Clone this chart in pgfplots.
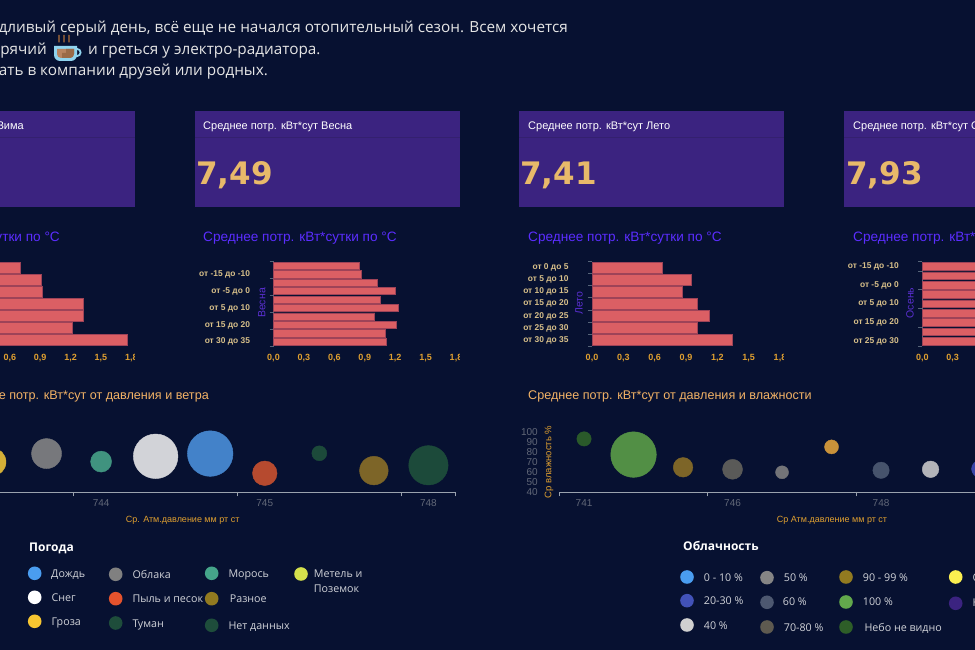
\documentclass[border=0pt]{standalone}
\usepackage{pgfplots}
\pgfplotsset{compat=1.18}
\usepackage{fontspec}
\setmainfont{Liberation Sans}
\newfontfamily\opensans{Open Sans}
\newfontfamily\dejavu{DejaVu Sans}
\definecolor{bg}{HTML}{071131}
\definecolor{panel}{HTML}{3B2380}
\definecolor{panelline}{HTML}{34206F}
\definecolor{gold}{HTML}{E8B96A}
\definecolor{ttlpurple}{HTML}{5B2DFF}
\definecolor{ylpurple}{HTML}{5A2FD0}
\definecolor{ttlorange}{HTML}{F2B266}
\definecolor{lblorange}{HTML}{E0A030}
\definecolor{cat}{HTML}{D8C08A}
\definecolor{barfill}{HTML}{DB5F64}
\definecolor{barline}{HTML}{9E4358}
\definecolor{axgray}{HTML}{566478}
\definecolor{tickgray}{HTML}{626878}
\definecolor{legtext}{HTML}{D0D2D8}
\definecolor{cupblue}{HTML}{8FD3EE}
\definecolor{cupa}{HTML}{B88360}
\definecolor{cupb}{HTML}{9A6A48}
\definecolor{steam}{HTML}{B0703A}
\definecolor{bA}{HTML}{D4AF37}
\definecolor{bB}{HTML}{77787C}
\definecolor{bC}{HTML}{40937F}
\definecolor{bD}{HTML}{D2D3D8}
\definecolor{bE}{HTML}{4382C9}
\definecolor{bF}{HTML}{B64A2F}
\definecolor{bG}{HTML}{1C4A3A}
\definecolor{bH}{HTML}{7D6528}
\definecolor{rA}{HTML}{2A5A2A}
\definecolor{rB}{HTML}{528F45}
\definecolor{rC}{HTML}{5A5A58}
\definecolor{rD}{HTML}{737478}
\definecolor{rE}{HTML}{C9923A}
\definecolor{rF}{HTML}{46536C}
\definecolor{rG}{HTML}{B3B4B9}
\definecolor{rH}{HTML}{3B46A8}
\pgfplotsset{
  barax/.style={
    scale only axis, anchor=south west,
    xmin=0, xmax=1.8, y dir=reverse,
    xbar, bar width=0.84, 
    xtick={0,0.3,0.6,0.9,1.2,1.5,1.8},
    xticklabels={{0,0},{0,3},{0,6},{0,9},{1,2},{1,5},{1,8}},
    axis x line=bottom, axis y line=left,
    x axis line style={draw=none},
    y axis line style={draw=axgray,line width=0.8pt,-},
    major tick length=0pt, minor tick length=4pt,
    tick align=outside,
    minor tick style={draw=axgray,line width=0.8pt},
    xticklabel style={font=\fontsize{9}{10}\selectfont\bfseries, text=lblorange, yshift=-4.5pt},
    yticklabel style={font=\fontsize{8.4}{10}\selectfont\bfseries, text=cat, xshift=-20pt},
    clip=false, axis on top=false,
  },
  bubax/.style={
    scale only axis, anchor=south west,
    axis x line=bottom, axis y line=left,
    x axis line style={draw=axgray!60!white,line width=0.8pt,-},
    major tick length=0pt, minor tick length=4pt,
    tick align=outside,
    minor tick style={draw=axgray!60!white,line width=0.8pt},
    xticklabel style={font=\fontsize{10}{11}\selectfont, text=tickgray, yshift=-3.5pt},
    yticklabel style={font=\fontsize{10}{10}\selectfont, text=tickgray, xshift=-18pt},
    /pgf/number format/assume math mode=true,
    clip=false,
  },
  bub/.style n args={2}{only marks, mark=*, mark size=#1pt, mark options={draw=#2,fill=#2}, forget plot},
}
\begin{document}
\begin{tikzpicture}[x=1pt,y=1pt]
\path[use as bounding box] (0,0) rectangle (975,650);
\clip (0,0) rectangle (975,650);
\fill[bg] (0,0) rectangle (975,650);

% intro text
\begin{scope}[every node/.style={inner sep=0,text=white!90!black,font=\opensans\fontsize{15.3}{18}\selectfont}]
\node[anchor=mid east] at (568,620) {Дождливый серый день, всё еще не начался отопительный сезон. Всем хочется};
\node[anchor=mid east] at (47,598) {пить горячий};
\node[anchor=mid west] at (88,598) {и греться у электро-радиатора.};
\node[anchor=mid east] at (268,577) {поболтать в компании друзей или родных.};
\end{scope}
% cup
\begin{scope}
\draw[line width=1.8pt,color=cupblue] (77,597.5) circle (3.6);
\fill[color=cupblue] (54,604) -- (77,604) -- (77,595) arc (0:-90:6) -- (60,589) arc (-90:-180:6) -- cycle;
\fill[color=cupa] (57,601) -- (74,601) -- (74,596) arc (0:-90:4) -- (61,592) arc (-90:-180:4) -- cycle;
\fill[color=cupb] (66,601) -- (74,601) -- (74,596) arc (0:-90:4) -- (62,592) -- (62,597) -- (66,597) -- cycle;
\foreach \sx in {59,64,69}{\draw[line width=1.2pt,color=steam] (\sx,615) .. controls (\sx+1.6,612.5) and (\sx-1.6,610.5) .. (\sx,607.5);}
\end{scope}

% KPI panels
\foreach \xa/\xb in {-130/135,195/460,519/784,844/1109}{
  \fill[panel] (\xa,539) rectangle (\xb,443);
  \draw[panelline,line width=0.8pt] (\xa,513) -- (\xb,513);
}
\begin{scope}[every node/.style={inner sep=0,text=white,font=\fontsize{11}{13}\selectfont}]
\node[anchor=mid east] at (24,523.5) {Среднее потр. кВт*сут Зима};
\node[anchor=mid west] at (203,523.5) {Среднее потр. кВт*сут Весна};
\node[anchor=mid west] at (528,523.5) {Среднее потр. кВт*сут Лето};
\node[anchor=mid west] at (853,523.5) {Среднее потр. кВт*сут Осень};
\end{scope}
\begin{scope}[every node/.style={inner sep=0,text=gold,font=\dejavu\bfseries\fontsize{31}{34}\selectfont}]
\node[anchor=mid west] at (196,468) {7,49};
\node[anchor=mid west] at (520,468) {7,41};
\node[anchor=mid west] at (846,468) {7,93};
\end{scope}

% bar titles
\begin{scope}[every node/.style={inner sep=0,text=ttlpurple,font=\fontsize{13.6}{15}\selectfont}]
\node[anchor=mid east] at (60,411.5) {Среднее потр. кВт*сутки по °С};
\node[anchor=mid west] at (203,411.5) {Среднее потр. кВт*сутки по °С};
\node[anchor=mid west] at (528,411.5) {Среднее потр. кВт*сутки по °С};
\node[anchor=mid west] at (853,411.5) {Среднее потр. кВт*сутки по °С};
\end{scope}

% Winter
\begin{scope}
\clip (-80,270) rectangle (134,400);
\begin{axis}[barax, at={(-51pt,304pt)}, width=182.4pt, height=84pt,
  ymin=-0.5, ymax=6.5, ytick={0,...,6},
  yticklabels={от -15 до -10,от -10 до -5,от -5 до 0,от 0 до 5,от 5 до 10,от 10 до 15,от 15 до 20},
  minor ytick={-0.5,0.5,...,6.5}, bar width=0.86]
\addplot[draw=barline,fill=barfill,line width=0.8pt] coordinates {(0.70,0)(0.91,1)(0.92,2)(1.33,3)(1.325,4)(1.22,5)(1.76,6)};
\end{axis}
\end{scope}
% Spring
\begin{scope}
\clip (190,270) rectangle (459,400);
\begin{axis}[barax, at={(273.5pt,304pt)}, width=182.5pt, height=84.2pt,
  ymin=-0.5, ymax=9.5, ytick={1,3,5,7,9},
  yticklabels={от -15 до -10,от -5 до 0,от 5 до 10,от 15 до 20,от 30 до 35},
  minor ytick={-0.5,1.5,3.5,5.5,7.5,9.5}]
\addplot[draw=barline,fill=barfill,line width=0.8pt] coordinates {(0.848,0)(0.871,1)(1.026,2)(1.206,3)(1.052,4)(1.233,5)(0.999,6)(1.21,7)(1.108,8)(1.118,9)};
\end{axis}
\end{scope}
\node[rotate=90,inner sep=0,text=ylpurple,font=\fontsize{10.5}{12}\selectfont] at (261.7,347) {Весна};
% Summer
\begin{scope}
\clip (510,270) rectangle (783,400);
\begin{axis}[barax, at={(592pt,304pt)}, width=188pt, height=84.2pt,
  ymin=-0.5, ymax=6.5, ytick={0,...,6},
  yticklabels={от 0 до 5,от 5 до 10,от 10 до 15,от 15 до 20,от 20 до 25,от 25 до 30,от 30 до 35},
  minor ytick={-0.5,0.5,...,6.5}, bar width=0.86]
\addplot[draw=barline,fill=barfill,line width=0.8pt] coordinates {(0.67,0)(0.951,1)(0.865,2)(1.006,3)(1.124,4)(1.006,5)(1.347,6)};
\end{axis}
\end{scope}
\node[rotate=90,inner sep=0,text=ylpurple,font=\fontsize{10.5}{12}\selectfont] at (579,347) {Лето};
% Autumn
\begin{axis}[barax, at={(922.3pt,304pt)}, width=182.4pt, height=84.2pt,
  ymin=-0.5, ymax=8.5, ytick={0,2,4,6,8},
  yticklabels={от -15 до -10,от -5 до 0,от 5 до 10,от 15 до 20,от 25 до 30},
  minor ytick={-0.5,0.5,2.5,4.5,6.5,8.5}]
\addplot[draw=barline,fill=barfill,line width=0.8pt] coordinates {(0.9,0)(0.95,1)(1.0,2)(1.1,3)(1.0,4)(1.1,5)(1.0,6)(1.1,7)(1.15,8)};
\end{axis}
\node[rotate=90,inner sep=0,text=ylpurple,font=\fontsize{10.5}{12}\selectfont] at (910,347) {Осень};

% bubble titles
\begin{scope}[every node/.style={inner sep=0,text=ttlorange,font=\fontsize{12.6}{15}\selectfont}]
\node[anchor=mid east] at (209,253.5) {Среднее потр. кВт*сут от давления и ветра};
\node[anchor=mid west] at (528,253.5) {Среднее потр. кВт*сут от давления и влажности};
\end{scope}

% Bubble left: index i -> px -8+54.55 i
\begin{axis}[bubax, at={(-80pt,157.7pt)}, width=535.7pt, height=60pt,
  xmin=-1.32, xmax=8.5, ymin=0, ymax=6,
  xtick={2,5,8}, xticklabels={744,745,748},
  minor xtick={-0.5,1.5,4.5,7.5,8.5},
  ytick=\empty, y axis line style={draw=none},
  axis line style={-}]
\addplot[bub={14}{bA}] coordinates {(0,3.03)};
\addplot[bub={15}{bB}] coordinates {(1,3.87)};
\addplot[bub={10.5}{bC}] coordinates {(2,3.07)};
\addplot[bub={22.3}{bD}] coordinates {(3,3.6)};
\addplot[bub={22.8}{bE}] coordinates {(4,3.87)};
\addplot[bub={12.3}{bF}] coordinates {(5,1.9)};
\addplot[bub={7.5}{bG}] coordinates {(6,3.9)};
\addplot[bub={14.3}{bH}] coordinates {(7,2.17)};
\addplot[bub={19.7}{bG}] coordinates {(8,2.7)};
\end{axis}
\node[inner sep=0,text=lblorange,font=\fontsize{9}{10}\selectfont] at (182.7,129.3) {Ср. Атм.давление мм рт ст};

% Bubble right: index i -> px 584.3+49.5 i
\begin{axis}[bubax, at={(559.3pt,157.7pt)}, width=445.5pt, height=60.7pt,
  xmin=-0.5, xmax=8.5, ymin=39.3, ymax=100,
  xtick={0,3,6}, xticklabels={741,746,748},
  minor xtick={-0.5,2.5,5.5,8.5},
  ytick={40,50,...,100},
  y axis line style={draw=none},
  axis line style={-}]
\addplot[bub={7.2}{rA}] coordinates {(0,92.7)};
\addplot[bub={22.8}{rB}] coordinates {(1,77)};
\addplot[bub={9.8}{bH}] coordinates {(2,64.3)};
\addplot[bub={10}{rC}] coordinates {(3,62.3)};
\addplot[bub={6.5}{rD}] coordinates {(4,59.3)};
\addplot[bub={7}{rE}] coordinates {(5,84.7)};
\addplot[bub={8.2}{rF}] coordinates {(6,61.3)};
\addplot[bub={8.3}{rG}] coordinates {(7,62.3)};
\addplot[bub={8.5}{rH}] coordinates {(8,62.7)};
\end{axis}
\node[inner sep=0,text=lblorange,font=\fontsize{9}{10}\selectfont] at (832,129.3) {Ср Атм.давление мм рт ст};
\node[rotate=90,inner sep=0,text=lblorange,font=\fontsize{9.5}{10}\selectfont] at (549,188) {Ср влажность \%};

% legends
\begin{scope}[every node/.style={inner sep=0,anchor=mid west,text=legtext,font=\opensans\fontsize{10.7}{13}\selectfont}]
\node[text=white,font=\opensans\bfseries\fontsize{12}{14}\selectfont] at (29,101.5) {Погода};
\foreach \dx/\dy/\tx/\ty/\c/\t in {
 34.7/573.3/51/575/4A9DF0/Дождь, 34.7/597.3/51.3/598.7/FFFFFF/Снег, 34.7/621.3/51.5/623/F7C631/Гроза,
 115.7/574.3/132.3/576/808080/Облака, 115.7/598.7/132.3/600.3/E5532D/Пыль и песок, 115.7/623/132.3/625/1E4D3B/Туман,
 211.7/573.3/228.3/575/45A58A/Морось, 211.7/598.7/229.7/600.3/927A20/Разное, 211.7/625.3/228.3/627/1E4D3B/Нет данных,
 301/574/313.7/575/D4E04C/Метель и}{
  \definecolor{tmpc}{HTML}{\c}
  \fill[tmpc] (\dx,650-\dy) circle (6.8);
  \node at (\tx,650-\ty) {\t};
}
\node at (313.7,60) {Поземок};
\node[text=white,font=\opensans\bfseries\fontsize{12}{14}\selectfont] at (683,101.8) {Облачность};
\foreach \dx/\dy/\tx/\ty/\c/\t in {
 687/577/703.7/578.7/4A9DF0/0 - 10 \%, 687/600.7/703.7/602.3/4252B8/20-30 \%, 687/625/703.7/626.7/D0D0D0/40 \%,
 767/577.7/783.7/579/858585/50 \%, 767/602.3/782.7/603.3/4D5870/60 \%, 767/627/783.7/628.7/5E5A50/70-80 \%,
 846/577/862.7/579/927A20/90 - 99 \%, 846/602/862.7/603.3/62A84C/100 \%, 846/627/864.3/628.7/2E5E28/Небо не видно,
 955.7/577/972.3/579/FBEF50/Осадки, 955.7/603.3/972.3/604.3/3B2380/Нет данных}{
  \definecolor{tmpc}{HTML}{\c}
  \fill[tmpc] (\dx,650-\dy) circle (6.8);
  \node at (\tx,650-\ty) {\t};
}
\end{scope}
\end{tikzpicture}
\end{document}
